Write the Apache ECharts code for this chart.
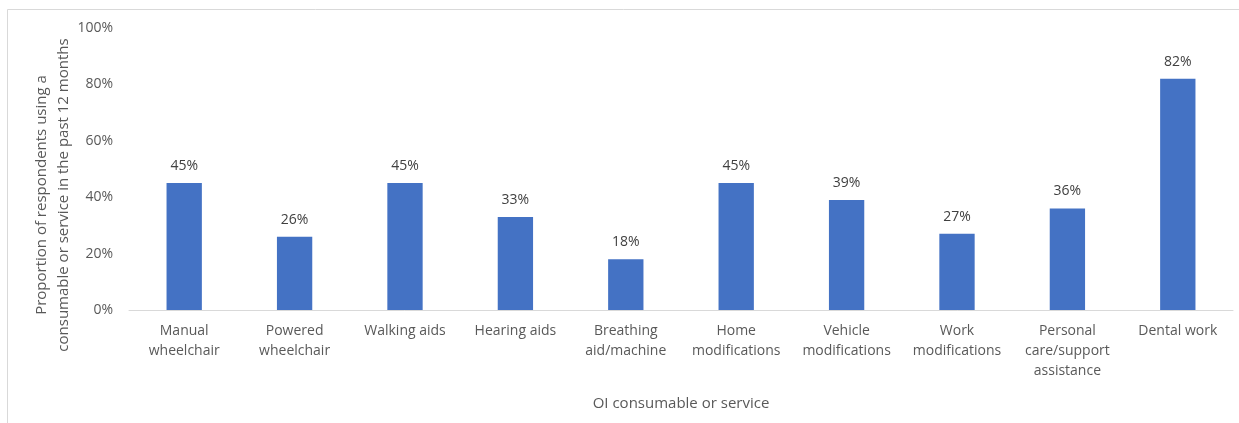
<!DOCTYPE html>
<html>
<head>
<meta charset="utf-8">
<script src="https://cdn.jsdelivr.net/npm/echarts@6/dist/echarts.min.js"></script>
<style>
  html, body { margin: 0; padding: 0; background: #fff; }
  #chart { width: 1239px; height: 423px; }
</style>
</head>
<body>
<div id="chart"></div>
<script>
// OI consumables and services used in the past 12 months
const categories = [
  'Manual\nwheelchair',
  'Powered\nwheelchair',
  'Walking aids',
  'Hearing aids',
  'Breathing\naid/machine',
  'Home\nmodifications',
  'Vehicle\nmodifications',
  'Work\nmodifications',
  'Personal\ncare/support\nassistance',
  'Dental work'
];
const proportions = [45, 26, 45, 33, 18, 45, 39, 27, 36, 82];
const yTicks = [0, 20, 40, 60, 80, 100];

const FONT = '"Open Sans", "Noto Sans", sans-serif';
const chart = echarts.init(document.getElementById('chart'), null, { renderer: 'canvas' });

chart.setOption({
  animation: false,
  backgroundColor: '#ffffff',
  textStyle: { fontFamily: FONT },
  grid: { left: 129, right: 6, top: 28, bottom: 113, containLabel: false },
  graphic: [
    {
      type: 'rect',
      shape: { x: 7.5, y: 9.5, width: 1260, height: 430 },
      style: { fill: 'none', stroke: '#d9d9d9', lineWidth: 1 },
      silent: true
    },
    {
      type: 'text',
      x: 53,
      y: 195,
      rotation: Math.PI / 2,
      style: {
        text: 'Proportion of respondents using a\nconsumable or service in the past 12 months',
        fontFamily: FONT,
        fontSize: 15,
        lineHeight: 22,
        fill: '#595959',
        align: 'center',
        verticalAlign: 'middle'
      },
      silent: true
    }
  ],
  xAxis: {
    type: 'category',
    data: categories,
    name: 'OI consumable or service',
    nameLocation: 'middle',
    nameGap: 86,
    nameTextStyle: { color: '#595959', fontSize: 15, fontFamily: FONT },
    axisLine: { show: true, lineStyle: { color: '#d9d9d9', width: 1 } },
    axisTick: { show: false },
    axisLabel: {
      interval: 0,
      color: '#595959',
      fontSize: 14,
      lineHeight: 20,
      margin: 11,
      fontFamily: FONT
    }
  },
  yAxis: {
    type: 'value',
    min: yTicks[0],
    max: yTicks[yTicks.length - 1],
    interval: yTicks[1] - yTicks[0],
    axisLine: { show: false },
    axisTick: { show: false },
    splitLine: { show: false },
    axisLabel: {
      color: '#595959',
      fontSize: 14,
      margin: 16,
      fontFamily: FONT,
      formatter: v => v + '%'
    }
  },
  series: [{
    type: 'bar',
    data: proportions,
    barWidth: '32%',
    itemStyle: { color: '#4472c4' },
    label: {
      show: true,
      position: 'top',
      distance: 10,
      color: '#404040',
      fontSize: 14,
      fontFamily: FONT,
      formatter: p => p.value + '%'
    }
  }]
});
</script>
</body>
</html>
